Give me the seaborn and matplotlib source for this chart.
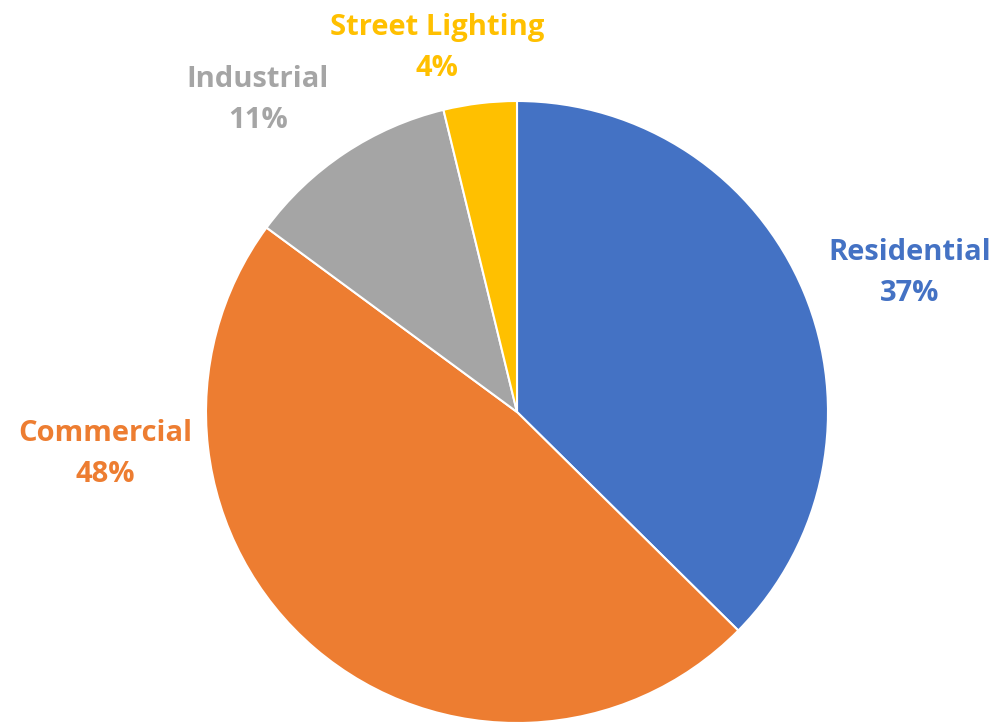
import matplotlib
matplotlib.use("Agg")
import matplotlib.pyplot as plt
import seaborn as sns

categories = ["Residential", "Commercial", "Industrial", "Street Lighting"]
values = [37.4, 47.7, 11.1, 3.8]
colors = ["#4472C4", "#ED7D31", "#A5A5A5", "#FFC000"]
label_pos = [(1.264, 0.448), (-1.325, -0.135), (-0.833, 1.002), (-0.257, 1.171)]

sns.set_theme(style="white")
plt.rcParams['font.family'] = ['Open Sans', 'DejaVu Sans']

fig = plt.figure(figsize=(9.97, 7.26), dpi=100)
ax = fig.add_axes([206/997, (726-412-311)/726, 622/997, 622/726])
ax.pie(values, colors=colors, startangle=90, counterclock=False,
       wedgeprops=dict(edgecolor="white", linewidth=1.5), radius=1.0)
ax.set_xlim(-1, 1)
ax.set_ylim(-1, 1)
ax.set_aspect("equal")
ax.axis("off")

total = sum(values)
for cat, v, c, (x, y) in zip(categories, values, colors, label_pos):
    ax.text(x, y, f"{cat}\n{round(100*v/total)}%", color=c, fontsize=21,
            fontweight="bold", ha="center", va="center", linespacing=1.55,
            clip_on=False)

fig.savefig("out.png", dpi=100)
